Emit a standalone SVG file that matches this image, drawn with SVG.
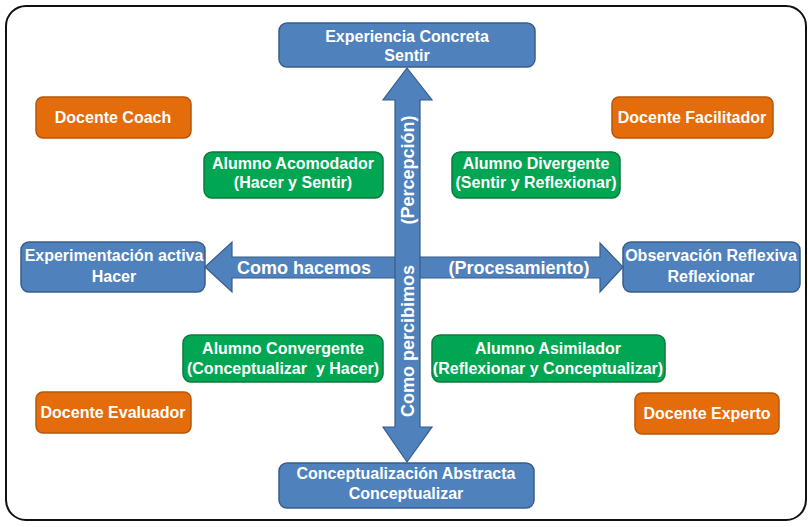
<svg xmlns="http://www.w3.org/2000/svg" width="808" height="527" viewBox="0 0 808 527">
<style>
.blue{fill:#4f81bd;stroke:#385d8a;stroke-width:1.5}
.orange{fill:#e46c0a;stroke:#b65708;stroke-width:1.5}
.green{fill:#00a651;stroke:#0d7a3e;stroke-width:1.5}
.arrow{fill:#4f81bd;stroke:#385d8a;stroke-width:1.2}
text{font-family:"Liberation Sans",Arial,sans-serif;font-weight:bold;fill:#ffffff;text-anchor:middle}
.t{font-size:16px}
.a{font-size:18px}
</style>
<rect x="6" y="6" width="800" height="514" rx="20" fill="#ffffff" stroke="#111111" stroke-width="2"/>
<g id="connectors">
<polygon class="arrow" points="205,267 232,242 232,257 600,257 600,243 623,267 600,292 600,278 232,278 232,292"/>
<polygon class="arrow" points="407,68 432,100 420,100 420,427 432,427 407,462 383,427 395,427 395,100 383,100"/>
<text class="a" x="304" y="274">Como hacemos</text>
<text class="a" x="519" y="274">(Procesamiento)</text>
<text class="a" transform="translate(414,170) rotate(-90)">(Percepción)</text>
<text class="a" transform="translate(414,341) rotate(-90)">Como percibimos</text>
</g>
<g id="experiencia">
<rect class="blue" x="279" y="23" width="256" height="44" rx="8"/>
<text class="t" x="407" y="42">Experiencia Concreta</text>
<text class="t" x="407" y="61">Sentir</text>
</g>
<g id="conceptualizacion">
<rect class="blue" x="279" y="463" width="255" height="45" rx="8"/>
<text class="t" x="406" y="479">Conceptualización Abstracta</text>
<text class="t" x="406" y="499">Conceptualizar</text>
</g>
<g id="experimentacion">
<rect class="blue" x="21" y="242" width="184" height="50" rx="8"/>
<text class="t" x="114" y="261">Experimentación activa</text>
<text class="t" x="114" y="282">Hacer</text>
</g>
<g id="observacion">
<rect class="blue" x="623" y="242" width="177" height="50" rx="8"/>
<text class="t" x="711" y="261">Observación Reflexiva</text>
<text class="t" x="711" y="282">Reflexionar</text>
</g>
<g id="coach">
<rect class="orange" x="36" y="97" width="155" height="41" rx="7"/>
<text class="t" x="113" y="123">Docente Coach</text>
</g>
<g id="facilitador">
<rect class="orange" x="612" y="97" width="161" height="41" rx="7"/>
<text class="t" x="692" y="123">Docente Facilitador</text>
</g>
<g id="evaluador">
<rect class="orange" x="36" y="392" width="155" height="41" rx="7"/>
<text class="t" x="113" y="418">Docente Evaluador</text>
</g>
<g id="experto">
<rect class="orange" x="635" y="393" width="144" height="41" rx="7"/>
<text class="t" x="707" y="419">Docente Experto</text>
</g>
<g id="acomodador">
<rect class="green" x="204" y="152" width="179" height="46" rx="8"/>
<text class="t" x="293" y="169">Alumno Acomodador</text>
<text class="t" x="293" y="188">(Hacer y Sentir)</text>
</g>
<g id="divergente">
<rect class="green" x="452" y="152" width="168" height="46" rx="8"/>
<text class="t" x="536" y="169">Alumno Divergente</text>
<text class="t" x="536" y="188">(Sentir y Reflexionar)</text>
</g>
<g id="convergente">
<rect class="green" x="183" y="335" width="200" height="47" rx="8"/>
<text class="t" x="283" y="354">Alumno Convergente</text>
<text class="t" x="283" y="374" xml:space="preserve">(Conceptualizar  y Hacer)</text>
</g>
<g id="asimilador">
<rect class="green" x="432" y="335" width="233" height="47" rx="8"/>
<text class="t" x="548" y="354">Alumno Asimilador</text>
<text class="t" x="548" y="374">(Reflexionar y Conceptualizar)</text>
</g>
</svg>
